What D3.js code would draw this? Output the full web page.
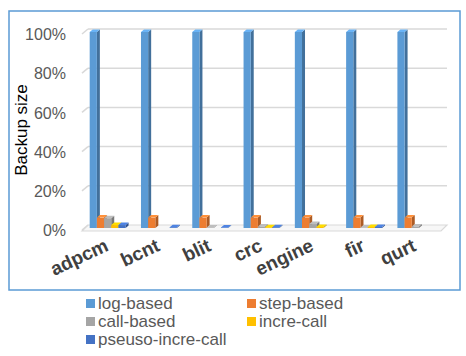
<!DOCTYPE html>
<html><head><meta charset="utf-8">
<script src="https://cdn.jsdelivr.net/npm/d3@7"></script>
<style>
html,body{margin:0;padding:0;background:#fff;}
svg{display:block;font-family:"Liberation Sans",Arial,sans-serif;}
</style></head>
<body><svg id="c" width="466" height="356"></svg>
<script>
const categories = ["adpcm","bcnt","blit","crc","engine","fir","qurt"];
const seriesNames = ["log-based","step-based","call-based","incre-call","pseuso-incre-call"];
const logBased    = [1.00, 1.00, 1.00, 1.00, 1.00, 1.00, 1.00];
const stepBased   = [0.053,0.053,0.053,0.053,0.053,0.053,0.053];
const callBased   = [0.05, 0.0,  0.003,0.008,0.02, 0.003,0.008];
const increCall   = [0.015,0.0,  0.0,  0.004,0.005,0.005,0.0];
const pseudoIncre = [0.015,0.004,0.003,0.004,0.0,  0.005,0.0];
const yTicks = [0,0.2,0.4,0.6,0.8,1.0];
const colors = ["#5b9bd5","#ed7d31","#a5a5a5","#ffc000","#4472c4"];

const seriesValues = [logBased, stepBased, callBased, increCall, pseudoIncre];
const svg = d3.select("#c");

// frame
svg.append("rect").attr("x",9).attr("y",11).attr("width",451).attr("height",279)
  .attr("fill","none").attr("stroke","#5b9bd5").attr("stroke-width",1.5);

const x0 = d3.scaleBand().domain(categories).range([82,441]).paddingInner(0.3).paddingOuter(0.15);
const x1 = d3.scaleBand().domain(seriesNames).range([0, x0.bandwidth()]);
const y = d3.scaleLinear().domain([0,1]).range([228,32]);
const dx = 3, dy = 2.5;

// floor
svg.append("polygon")
  .attr("points",[[82,231],[441,231],[447,225],[88,225]].map(p=>p.join(",")).join(" "))
  .attr("fill","#f7f7f7").attr("stroke","#d9d9d9").attr("stroke-width",1.2);

// gridlines (back wall)
const g = svg.append("g");
yTicks.forEach(t=>{
  const yb = y(t)-3;
  if (t>0) {
    g.append("line").attr("x1",88).attr("x2",447).attr("y1",yb).attr("y2",yb)
      .attr("stroke","#d9d9d9").attr("stroke-width",1.5);
  }
  g.append("line").attr("x1",82).attr("x2",88).attr("y1",yb+5).attr("y2",yb)
    .attr("stroke","#d9d9d9").attr("stroke-width",1.5);
});

// y axis labels
const yAxis = svg.append("g").attr("transform","translate(66,2.5)")
  .call(d3.axisLeft(y).tickValues(yTicks).tickFormat(d3.format(".0%")).tickSize(0).tickPadding(0));
yAxis.select(".domain").remove();
yAxis.selectAll("text").attr("fill","#595959").style("font-size","16px")
  .style("font-family","'Liberation Sans',Arial,sans-serif");

// y title
svg.append("text").attr("transform","translate(27,130) rotate(-90)")
  .attr("text-anchor","middle").style("font-size","17px").attr("fill","#000").text("Backup size");

function shade(c,k){ return d3.color(c).darker(k).formatHex(); }
function light(c,k){ return d3.color(c).brighter(k).formatHex(); }

// bars
const bars = svg.append("g");
categories.forEach((cat,ci)=>{
  seriesNames.forEach((s,si)=>{
    const v = seriesValues[si][ci];
    if (v<=0) return;
    const xb = x0(cat)+x1(s), bw = x1.bandwidth();
    const yv = y(v), yz = y(0);
    const c = colors[si];
    const gb = bars.append("g");
    gb.append("polygon").attr("points",[[xb+bw,yv],[xb+bw+dx,yv-dy],[xb+bw+dx,yz-dy],[xb+bw,yz]].map(p=>p.join(",")).join(" "))
      .attr("fill",shade(c,0.9));
    gb.append("rect").attr("x",xb).attr("y",yv).attr("width",bw).attr("height",yz-yv).attr("fill",c);
    gb.append("polygon").attr("points",[[xb,yv],[xb+dx,yv-dy],[xb+bw+dx,yv-dy],[xb+bw,yv]].map(p=>p.join(",")).join(" "))
      .attr("fill",light(c,0.4));
  });
});

// x axis labels
const xAxis = svg.append("g").attr("transform","translate(2,250)")
  .call(d3.axisBottom(x0).tickSize(0).tickPadding(0));
xAxis.select(".domain").remove();
xAxis.selectAll("text")
  .attr("text-anchor","end").attr("dy","0").attr("y",0)
  .attr("transform","rotate(-25)")
  .attr("fill","#404040").style("font-size","19px").style("font-weight","bold")
  .style("font-family","'Liberation Sans',Arial,sans-serif");

// legend
const legend = svg.append("g");
const legPos = [[86,309],[247,309],[86,327],[247,327],[86,345]];
seriesNames.forEach((s,i)=>{
  const [lx,ly] = legPos[i];
  legend.append("rect").attr("x",lx).attr("y",ly-10).attr("width",9).attr("height",9).attr("fill",colors[i]);
  legend.append("text").attr("x",lx+12).attr("y",ly).style("font-size","17px")
    .attr("fill","#595959").text(s);
});
</script></body></html>
